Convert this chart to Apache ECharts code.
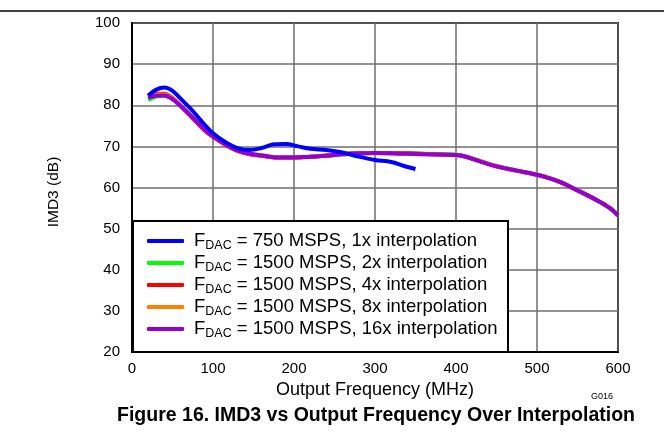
<!DOCTYPE html>
<html>
<head>
<meta charset="utf-8">
<script src="https://cdn.jsdelivr.net/npm/echarts@6/dist/echarts.min.js"></script>
<style>
  * { margin: 0; padding: 0; }
  body { background: #fff; }
  #chart { width: 664px; height: 440px; }
</style>
</head>
<body>
<div id="chart"></div>
<script>
// tick labels
const xTicks = [0, 100, 200, 300, 400, 500, 600];
const yTicks = [20, 30, 40, 50, 60, 70, 80, 90, 100];

// 750 MSPS, 1x
const blueFreq = [20, 30, 40, 50, 60, 75, 90, 100, 115, 130, 145, 160, 175, 190, 205, 220, 240, 260, 280, 300, 320, 335, 350];
const blueIMD = [82.3, 83.8, 84.3, 83.5, 81.6, 78.6, 75.2, 73.2, 71.1, 69.6, 69.1, 69.6, 70.5, 70.6, 70.0, 69.4, 69.1, 68.5, 67.5, 66.7, 66.2, 65.3, 64.5];

// 1500 MSPS, shared frequency grid
const freq1500 = [20, 30, 40, 50, 60, 75, 90, 100, 115, 130, 145, 160, 180, 200, 220, 240, 260, 280, 300, 340, 380, 400, 410, 430, 450, 475, 500, 525, 550, 575, 590, 600];
const greenIMD = [81.3, 82.1, 82.3, 81.5, 79.9, 77.1, 74.1, 72.6, 70.6, 69.1, 68.3, 67.8, 67.3, 67.3, 67.5, 67.7, 68.1, 68.3, 68.4, 68.3, 68.1, 68.0, 67.6, 66.4, 65.2, 64.1, 63.1, 61.6, 59.3, 56.8, 55.0, 53.2];
const redIMD = [82.3, 82.8, 82.8, 81.8, 79.9, 76.8, 73.8, 72.3, 70.4, 68.9, 68.1, 67.7, 67.3, 67.3, 67.5, 67.8, 68.2, 68.4, 68.4, 68.3, 68.0, 67.9, 67.6, 66.4, 65.2, 64.1, 63.1, 61.6, 59.3, 56.8, 55.0, 53.2];
const orangeIMD = [82.1, 82.6, 82.6, 81.7, 79.9, 77.0, 74.0, 72.5, 70.5, 69.0, 68.2, 67.8, 67.3, 67.3, 67.5, 67.7, 68.1, 68.3, 68.4, 68.2, 68.0, 67.9, 67.6, 66.4, 65.2, 64.1, 63.1, 61.6, 59.3, 56.8, 55.0, 53.2];
const purpleIMD = [81.8, 82.3, 82.4, 81.5, 79.8, 77.0, 74.0, 72.5, 70.5, 69.0, 68.2, 67.8, 67.3, 67.3, 67.5, 67.7, 68.1, 68.3, 68.4, 68.2, 68.0, 67.9, 67.6, 66.3, 65.1, 64.1, 63.1, 61.6, 59.3, 56.8, 55.0, 53.2];

const seriesNames = ["750 MSPS, 1x", "1500 MSPS, 2x", "1500 MSPS, 4x", "1500 MSPS, 8x", "1500 MSPS, 16x"];
const seriesColors = ["#0000ff", "#00ff00", "#ff0000", "#ff7f00", "#9400d3"];

const font = "Liberation Sans";

function pairs(xs, ys) {
  return xs.map((x, i) => [x, ys[i]]);
}

function lineSeries(idx, data, z) {
  return {
    name: seriesNames[idx],
    type: "line",
    data: data,
    smooth: 0.35,
    showSymbol: false,
    z: z,
    lineStyle: { color: seriesColors[idx], width: 4 },
    itemStyle: { color: seriesColors[idx] }
  };
}

let chart = echarts.init(document.getElementById("chart"), null, { renderer: "canvas" });
let option = {
  animation: false,
  backgroundColor: "#fff",
  textStyle: { fontFamily: font },
  grid: {
    left: 132,
    top: 23,
    width: 486,
    height: 329,
    show: true,
    borderColor: "#000",
    borderWidth: 2
  },
  xAxis: {
    type: "value",
    min: xTicks[0],
    max: xTicks[xTicks.length - 1],
    interval: 100,
    name: "Output Frequency (MHz)",
    nameLocation: "middle",
    nameGap: 24,
    nameTextStyle: { fontSize: 18, color: "#000", fontFamily: font },
    axisLine: { show: true, lineStyle: { color: "#000", width: 2 } },
    axisTick: { show: false },
    axisLabel: { fontSize: 15, color: "#000", margin: 9, fontFamily: font },
    splitLine: { show: true, lineStyle: { color: "#6e6e6e", width: 1.5 } }
  },
  yAxis: {
    type: "value",
    min: yTicks[0],
    max: yTicks[yTicks.length - 1],
    interval: 10,
    axisLine: { show: true, lineStyle: { color: "#000", width: 2 } },
    axisTick: { show: false },
    axisLabel: { fontSize: 15, color: "#000", margin: 12, fontFamily: font },
    splitLine: { show: true, lineStyle: { color: "#6e6e6e", width: 1.5 } }
  },
  legend: {
    orient: "vertical",
    left: 142,
    top: 225,
    z: 20,
    icon: "roundRect",
    itemWidth: 37,
    itemHeight: 4,
    itemGap: 0,
    data: seriesNames,
    formatter: name => {
      let parts = name.split(", ");
      return "{n|F}{s|DAC}{n| = " + parts[0] + ", " + parts[1] + " interpolation}";
    },
    textStyle: {
      fontFamily: font,
      color: "#000",
      padding: [0, 0, 0, 5],
      rich: {
        n: { fontSize: 18.5, lineHeight: 21.25, color: "#000", fontFamily: font },
        s: { fontSize: 12.5, lineHeight: 21.25, color: "#000", fontFamily: font, padding: [9, 0, 0, 0] }
      }
    }
  },
  graphic: [
    {
      type: "line",
      shape: { x1: 0, y1: 11, x2: 664, y2: 11 },
      style: { stroke: "#000", lineWidth: 1.5 }
    },
    {
      // legend box
      type: "rect",
      z: 10,
      shape: { x: 133, y: 221, width: 375, height: 131 },
      style: { fill: "#fff", stroke: "#000", lineWidth: 2 }
    },
    {
      // y axis title
      type: "text",
      x: 54,
      y: 192,
      rotation: Math.PI / 2,
      style: {
        text: "IMD3 (dB)",
        fontSize: 15.5,
        fill: "#000",
        fontFamily: font,
        align: "center",
        verticalAlign: "middle"
      }
    },
    {
      type: "text",
      left: 591,
      top: 392,
      style: { text: "G016", fontSize: 9, fill: "#000", fontFamily: font }
    },
    {
      type: "text",
      x: 376,
      y: 416,
      style: {
        text: "Figure 16. IMD3 vs Output Frequency Over Interpolation",
        fontSize: 19.5,
        fontWeight: "bold",
        fill: "#000",
        fontFamily: font,
        align: "center",
        verticalAlign: "middle"
      }
    }
  ],
  series: [
    lineSeries(1, pairs(freq1500, greenIMD), 2),
    lineSeries(2, pairs(freq1500, redIMD), 3),
    lineSeries(3, pairs(freq1500, orangeIMD), 4),
    lineSeries(4, pairs(freq1500, purpleIMD), 5),
    lineSeries(0, pairs(blueFreq, blueIMD), 6)
  ]
};
chart.setOption(option);
</script>
</body>
</html>
